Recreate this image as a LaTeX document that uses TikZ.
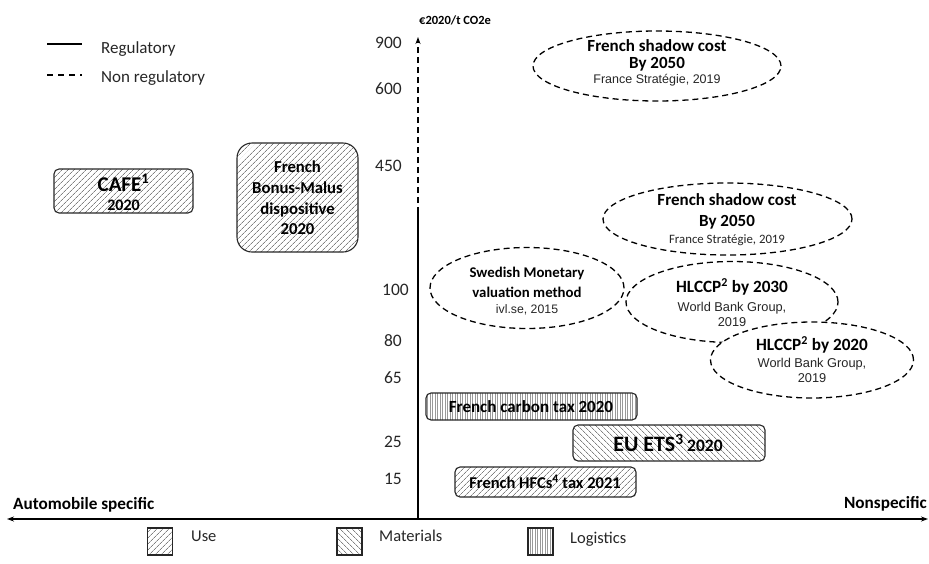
\documentclass[tikz,border=0pt]{standalone}
\usepackage{fontspec}
\setmainfont{Carlito}
\newfontfamily\srcfont{Liberation Sans}
\usetikzlibrary{shapes.geometric,patterns.meta,arrows.meta}

\tikzset{
  box/.style={draw=black!85, line width=1.1pt, rounded corners=5pt, inner sep=0pt},
  usefill/.style={pattern={Lines[angle=45,distance=4pt,line width=0.7pt]}, pattern color=black!50},
  matfill/.style={pattern={Lines[angle=-45,distance=4pt,line width=0.7pt]}, pattern color=black!50},
  logfill/.style={pattern={Lines[angle=90,distance=2.5pt,line width=0.4pt]}, pattern color=black!40},
  cloud/.style={ellipse, draw=black, fill=white, line width=1.3pt, dash pattern=on 6pt off 4pt, inner sep=0pt},
  txt/.style={inner sep=0pt, align=center, font=\fontsize{17}{20}\selectfont\bfseries},
  src/.style={inner sep=0pt, align=center, font=\srcfont\fontsize{12.5}{15}\selectfont, text=black!85},
  tick/.style={inner sep=0pt, anchor=east, font=\fontsize{17.5}{20}\selectfont, text=black!85},
  leg/.style={inner sep=0pt, anchor=west, font=\fontsize{16.5}{19}\selectfont, text=black!85},
  keybox/.style={draw=black!85, line width=1.1pt, minimum width=25pt, minimum height=27pt, inner sep=0pt},
}

\begin{document}
\begin{tikzpicture}[x=1pt, y=-1pt]
\useasboundingbox (0,0) rectangle (929,563);

% ---- legend: line styles
\coordinate (ls1) at (47,44);  \coordinate (le1) at (82,44);
\coordinate (ls2) at (47,75);  \coordinate (le2) at (82,75);
\draw[line width=1.2pt] (ls1) -- (le1);
\draw[line width=1.2pt, dash pattern=on 6pt off 5pt] (ls2) -- (le2);
\node[leg, font=\fontsize{17}{20}\selectfont] (lreg) at (101,49) {Regulatory};
\node[leg, font=\fontsize{17}{20}\selectfont] (lnon) at (101,78) {Non regulatory};

% ---- axes
\coordinate (ytop) at (418,37);
\coordinate (ymid) at (418,213);
\coordinate (ybot) at (418,519);
\coordinate (xl) at (7,519);
\coordinate (xr) at (928,519);
\draw[line width=1.2pt, dash pattern=on 6pt off 4pt, -{Stealth[length=7pt,width=5pt]}] (ymid) -- (ytop);
\draw[line width=1.2pt] (ymid) -- (ybot);
\draw[line width=1.3pt, {Stealth[length=7pt,width=5pt]}-{Stealth[length=7pt,width=5pt]}] (xl) -- (xr);

\node[inner sep=0pt, anchor=west, font=\fontsize{12.5}{15}\selectfont\bfseries] (unit) at (419,20) {€2020/t CO2e};
\node[inner sep=0pt, anchor=west, font=\fontsize{17.2}{20}\selectfont\bfseries] (autom) at (13,505) {Automobile specific};
\node[inner sep=0pt, anchor=east, font=\fontsize{17.2}{20}\selectfont\bfseries] (nonsp) at (927,504) {Nonspecific};

% ---- tick labels
\node[tick] (t900) at (402,43) {900};
\node[tick] (t600) at (402,89) {600};
\node[tick] (t450) at (402,166) {450};
\node[tick] (t100) at (409,290) {100};
\node[tick] (t80)  at (402,341) {80};
\node[tick] (t65)  at (402,378) {65};
\node[tick] (t25)  at (402,442) {25};
\node[tick] (t15)  at (402,479) {15};

% ---- automobile-specific measures
\node[box, usefill, minimum width=139pt, minimum height=44pt] (cafe) at (123.5,191) {};
\node[txt] (cafet) at (123.5,183) {\fontsize{21}{23}\selectfont CAFE\textsuperscript{1}};
\node[txt] (cafey) at (123.5,205) {\fontsize{16}{18}\selectfont 2020};

\node[box, usefill, rounded corners=15pt, minimum width=121pt, minimum height=109pt] (bonus) at (297.5,197.5) {};
\node[txt, font=\fontsize{16.7}{20.7}\selectfont\bfseries] (bonust) at (297.5,198) {French\\Bonus-Malus\\dispositive\\2020};

% ---- nonspecific regulatory measures
\node[box, logfill, minimum width=211pt, minimum height=27pt] (ctax) at (531.5,406.5) {};
\node[txt] (ctaxt) at (531,407) {French carbon tax 2020};

\node[box, matfill, minimum width=192pt, minimum height=36pt] (ets) at (669,443) {};
\node[txt] (etst) at (668,443) {\fontsize{22}{24}\selectfont EU ETS\textsuperscript{3}\,\fontsize{17.5}{20}\selectfont 2020};

\node[box, usefill, minimum width=181pt, minimum height=30pt] (hfc) at (545.5,482) {};
\node[txt, font=\fontsize{16.5}{19}\selectfont\bfseries] (hfct) at (545,482) {French HFCs\textsuperscript{4} tax 2021};

% ---- non-regulatory reference values
\node[cloud, minimum width=248pt, minimum height=70pt] (shadow1) at (657,66) {};
\node[txt, font=\fontsize{17}{16.5}\selectfont\bfseries] (shadow1t) at (657,55.5) {French shadow cost\\By 2050};
\node[src] (shadow1s) at (657,80) {France Stratégie, 2019};

\node[cloud, minimum width=249pt, minimum height=72pt] (shadow2) at (727.5,219) {};
\node[txt, font=\fontsize{17}{21}\selectfont\bfseries] (shadow2t) at (727,211.5) {French shadow cost\\By 2050};
\node[src, font=\fontsize{12.8}{15}\selectfont] (shadow2s) at (727,240) {France Stratégie, 2019};

\node[cloud, minimum width=194pt, minimum height=81pt] (swed) at (527,288) {};
\node[txt, font=\fontsize{14.8}{20}\selectfont\bfseries] (swedt) at (527,282) {Swedish Monetary\\valuation method};
\node[src, font=\srcfont\fontsize{12.3}{14}\selectfont] (sweds) at (527,310) {ivl.se, 2015};

\node[cloud, minimum width=212pt, minimum height=81pt] (hl30) at (732,302) {};
\node[txt, font=\fontsize{17.2}{20}\selectfont\bfseries] (hl30t) at (732,287) {HLCCP\textsuperscript{2} by 2030};
\node[src, font=\srcfont\fontsize{12.8}{15}\selectfont] (hl30s) at (732,314.5) {World Bank Group,\\2019};

\node[cloud, minimum width=203pt, minimum height=76pt] (hl20) at (812,360) {};
\node[txt, font=\fontsize{17.2}{20}\selectfont\bfseries] (hl20t) at (812,345) {HLCCP\textsuperscript{2} by 2020};
\node[src, font=\srcfont\fontsize{12.8}{15}\selectfont] (hl20s) at (812,370.5) {World Bank Group,\\2019};

% ---- legend: scopes
\node[keybox, usefill] (kuse) at (160,541.5) {};
\node[leg] (kuset) at (191,536) {Use};
\node[keybox, matfill] (kmat) at (349.5,541.5) {};
\node[leg] (kmatt) at (379,536) {Materials};
\node[keybox, logfill] (klog) at (540.5,541.5) {};
\node[leg] (klogt) at (570,539) {Logistics};
\end{tikzpicture}
\end{document}
